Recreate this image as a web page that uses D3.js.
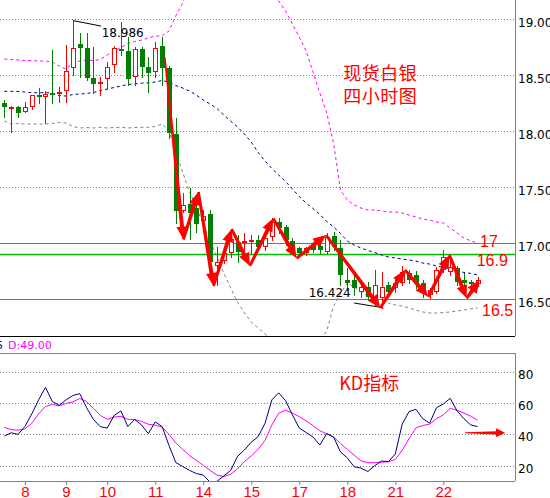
<!DOCTYPE html>
<html><head><meta charset="utf-8">
<script src="https://cdn.jsdelivr.net/npm/d3@7"></script>
<style>
html,body{margin:0;padding:0;background:#fff;}
svg{display:block;}
</style></head><body>
<svg id="c" width="550" height="498"></svg>
<script>
// ---------- DATA ----------
const openP = [18.253,18.210,18.212,18.167,18.217,18.319,18.301,18.342,18.337,18.354,
18.560,18.777,18.738,18.471,18.431,18.462,18.589,18.732,18.717,18.485,
18.729,18.569,18.524,18.759,18.560,17.973,17.288,17.348,17.312,17.199,
17.259,16.797,16.839,16.908,17.009,17.013,17.018,17.027,16.961,17.051,
17.190,17.146,17.020,16.953,16.913,16.982,16.973,16.922,17.062,16.955,
16.670,16.670,16.565,16.610,16.506,16.509,16.625,16.598,16.643,16.732,
16.714,16.643,16.536,16.565,16.759,16.744,16.777,16.670,16.654,16.634];
const closeP = [18.217,18.214,18.163,18.212,18.319,18.304,18.330,18.330,18.348,18.536,
18.738,18.744,18.471,18.420,18.440,18.569,18.738,18.726,18.467,18.729,
18.574,18.521,18.738,18.560,17.985,17.288,17.339,17.270,17.170,17.244,
16.830,16.830,16.908,17.036,16.920,17.022,17.027,16.967,17.042,17.190,
17.131,17.027,16.967,16.908,16.953,16.937,16.937,17.051,16.967,16.714,
16.643,16.598,16.610,16.521,16.625,16.607,16.565,16.643,16.741,16.670,
16.643,16.565,16.580,16.759,16.875,16.788,16.654,16.640,16.634,16.670];
const highP = [18.277,18.223,18.223,18.262,18.319,18.387,18.354,18.723,18.396,18.768,
18.986,18.878,18.872,18.753,18.485,18.619,18.759,18.976,18.842,18.753,
18.747,18.663,18.792,18.842,18.580,18.116,17.446,17.491,17.402,17.295,
17.295,16.967,16.946,17.116,17.071,17.089,17.071,17.071,17.071,17.223,
17.223,17.161,17.045,16.967,16.967,17.009,17.000,17.089,17.098,17.027,
16.777,16.741,16.670,16.652,16.759,16.741,16.652,16.687,16.795,16.759,
16.750,16.670,16.598,16.786,16.937,16.893,16.795,16.732,16.670,16.696];
const lowP = [18.128,17.994,18.128,18.167,18.194,18.247,18.074,18.253,18.262,18.262,
18.500,18.479,18.455,18.337,18.321,18.375,18.529,18.679,18.411,18.411,
18.485,18.351,18.485,18.411,17.937,17.181,17.277,17.036,17.098,17.134,
16.741,16.625,16.821,16.878,16.830,16.937,16.911,16.937,16.937,17.027,
17.089,16.982,16.937,16.893,16.893,16.920,16.911,16.911,16.937,16.625,
16.580,16.536,16.518,16.491,16.446,16.424,16.518,16.562,16.625,16.643,
16.598,16.518,16.509,16.554,16.741,16.714,16.625,16.625,16.607,16.616];

const bbMid = [18.354,18.354,18.353,18.348,18.342,18.342,18.342,18.339,18.317,18.312,
18.326,18.330,18.335,18.344,18.362,18.375,18.388,18.402,18.415,18.421,
18.427,18.430,18.437,18.451,18.437,18.406,18.384,18.357,18.321,18.277,
18.241,18.201,18.143,18.089,18.036,17.973,17.900,17.810,17.732,17.665,
17.607,17.549,17.482,17.415,17.357,17.308,17.254,17.192,17.143,17.085,
17.018,16.982,16.955,16.933,16.915,16.893,16.875,16.866,16.857,16.848,
16.839,16.821,16.812,16.795,16.781,16.768,16.750,16.737,16.728,16.714];
const bbUp = [18.643,18.638,18.634,18.629,18.629,18.625,18.625,18.616,18.580,18.553,
18.607,18.625,18.634,18.629,18.638,18.679,18.714,18.746,18.781,18.799,
18.812,18.830,18.848,18.848,18.893,19.027,19.143,19.295,19.437,19.571,
19.688,19.777,19.839,19.866,19.866,19.839,19.777,19.661,19.482,19.277,
19.161,19.071,18.955,18.839,18.714,18.527,18.339,18.161,17.893,17.473,
17.384,17.339,17.312,17.295,17.295,17.286,17.277,17.277,17.268,17.250,
17.232,17.214,17.205,17.188,17.179,17.134,17.089,17.045,17.018,17.000];
const bbLow = [18.089,18.062,18.067,18.062,18.062,18.062,18.062,18.067,18.076,18.071,
18.040,18.027,18.031,18.027,18.033,18.027,18.031,18.033,18.027,18.031,
18.033,18.033,18.040,18.062,17.999,17.812,17.634,17.455,17.330,17.161,
17.027,16.875,16.732,16.598,16.473,16.375,16.295,16.241,16.188,16.134,
16.089,16.054,16.036,16.027,16.045,16.080,16.134,16.214,16.437,16.545,
16.643,16.607,16.562,16.527,16.500,16.482,16.464,16.446,16.437,16.420,
16.402,16.384,16.375,16.375,16.379,16.384,16.393,16.402,16.411,16.420];

const kLine = [39,41,40,45,53,62,70,61,58.5,62,
64.8,66,57,49.5,44.9,44,52,55,45,49.5,
46,40.5,48,45,33,22,19.5,17,15,14,
9.5,10,13.5,17,26,30,35,38.5,47,62,
66.5,61.5,52.5,44,41.2,38.3,33.2,40.5,38.3,28.8,
25,19.3,18.5,16.3,20,23,22.6,27.5,46.5,54.5,
56,50,47.2,57,59.4,63,55,50,46,45];
const dLine = [44.5,43,42.7,43.5,47,53,57.8,59.1,58.2,59.7,
60.7,62.9,60.9,56.5,52.1,49.6,51,51.5,49.6,49.4,
48.3,46.4,45.9,44.6,40,34.5,30.5,26.5,23.3,20.3,
17,14,13.1,14.5,18,22.7,26.2,30.5,36,46,
53.5,55.5,53.5,51.3,48.6,45.6,42.3,40.4,38.3,34.2,
30.4,26.8,23.1,21.9,21.9,22.3,22.5,24,29.8,37.3,
44.1,45.7,46.5,50,52.5,56.6,55.4,53.6,51.6,49];

const xLabels = ['8','9','10','11','14','15','17','18','21','22'];
const xLabelBars = [3,9,15,22,29,36,43,50,57,64];
const priceTicks = [16.5,17,17.5,18,18.5,19];
const kdTicks = [20,40,60,80];
const levelValues = [17, 16.9, 16.5];
const levelTexts = ['17','16.9','16.5'];
// trend arrows: [bar index, price]
const arrowPath = [[23.4,18.66],[26.1,17.031],[28.3,17.455],[30.5,16.616],[33.15,17.125],
[35.8,16.795],[39.2,17.22],[42.6,16.863],[46.9,17.071],[54.8,16.42],[58.4,16.759],
[61.8,16.52],[64.9,16.893],[67.4,16.506],[69.3,16.67]];
const kdArrow = [[67.2,41],[73.0,41]];
const highMark = {from:[10,18.986], to:[14.1,18.937], text:'18.986', at:[14.2,18.875]};
const lowMark = {from:[51,16.464], to:[55,16.424], text:'16.424', at:[50.5,16.551]};
const titleLines = ['现货白银','四小时图'];
const titlePos = [[54.8,18.509],[54.8,18.304]];
const kdTitle = {text:'KD指标', at:[53.2,72.7]};
const levelLabelPos = [[69.35,17.02],[68.86,16.848],[69.64,16.402]];
const kdInfo = {k:'45', d:'D:49.00'};

// ---------- SCALES ----------
const AX = 515;
const mainTop = 0, mainBot = 336, kdTop = 353, kdBot = 481;
const xi = d3.scaleLinear().domain([-0.5, 74.5]).range([0.87, 515.37]);
const y = d3.scaleLinear().domain([16.5, 19]).range([299, 19]);
const yk = d3.scaleLinear().domain([20, 80]).range([465.7, 371.7]);

const svg = d3.select('#c');
const defs = svg.append('defs');
defs.append('clipPath').attr('id','cm').append('rect').attr('x',0).attr('y',mainTop).attr('width',AX).attr('height',mainBot-mainTop);
defs.append('clipPath').attr('id','ck').append('rect').attr('x',0).attr('y',kdTop).attr('width',AX).attr('height',kdBot-kdTop);

const FONT = 'DejaVu Sans, Verdana, sans-serif';
const ARIAL = 'Liberation Sans, Arial, sans-serif';
const CJK = 'Noto Sans CJK SC, sans-serif';
const px = v => Math.round(v) + 0.5;

// ---------- MAIN PANEL ----------
const gm = svg.append('g').attr('clip-path','url(#cm)');
gm.selectAll('line.grid').data(priceTicks).join('line')
  .attr('x1',0).attr('x2',AX).attr('y1',d=>px(y(d))).attr('y2',d=>px(y(d)))
  .attr('stroke','#808080').attr('stroke-dasharray','1,2');

const levelColors = ['#3f9f3f','#00c000','#3f9f3f'];
gm.selectAll('line.lvl').data(levelValues).join('line')
  .attr('x1',0).attr('x2',AX).attr('y1',d=>px(y(d))).attr('y2',d=>px(y(d)))
  .attr('stroke',(d,i)=>levelColors[i]).attr('stroke-width',(d,i)=>i===1?1.3:1);

const band = d3.line().x((d,i)=>xi(i)).y(d=>y(d));
gm.append('path').attr('d',band(bbUp)).attr('fill','none').attr('stroke','#ff00ff').attr('stroke-dasharray','3,3');
gm.append('path').attr('d',band(bbMid)).attr('fill','none').attr('stroke','#000080').attr('stroke-dasharray','3,3');
gm.append('path').attr('d',band(bbLow)).attr('fill','none').attr('stroke','#808080').attr('stroke-dasharray','3,3');

const candles = d3.range(openP.length).map(i=>({i,o:openP[i],c:closeP[i],h:highP[i],l:lowP[i]}));
const cg = gm.append('g').attr('shape-rendering','crispEdges');
candles.forEach(d=>{
  const up = d.c >= d.o;
  const col = up ? '#ff0000' : '#008000';
  const cx = Math.round(xi(d.i));
  cg.append('line').attr('x1',cx+0.5).attr('x2',cx+0.5)
    .attr('y1',Math.round(y(d.h))).attr('y2',Math.round(y(d.l))+1).attr('stroke',col);
  const top = Math.round(y(Math.max(d.o,d.c)));
  const bot = Math.round(y(Math.min(d.o,d.c)));
  if (up) {
    cg.append('rect').attr('x',cx-1.5).attr('y',top+0.5).attr('width',4).attr('height',Math.max(bot-top-1,1))
      .attr('fill','#fff').attr('stroke',col);
  } else {
    cg.append('rect').attr('x',cx-2).attr('y',top).attr('width',5).attr('height',Math.max(bot-top,2))
      .attr('fill',col);
  }
});

[highMark, lowMark].forEach((m,k)=>{
  gm.append('line').attr('x1',xi(m.from[0])).attr('y1',y(m.from[1]))
    .attr('x2',xi(m.to[0])).attr('y2',y(m.to[1])).attr('stroke','#000');
  gm.append('text').attr('x',xi(m.at[0])).attr('y',y(m.at[1])).attr('dy','0.35em')
    .attr('text-anchor',k===0?'start':'end').attr('font-family',FONT).attr('font-size',12)
    .attr('fill','#000').text(m.text);
});

function arrowPoly(p0,p1,w0,w1,hl,hw){
  const dx=p1[0]-p0[0], dy=p1[1]-p0[1], L=Math.hypot(dx,dy);
  const ux=dx/L, uy=dy/L, nx=-uy, ny=ux;
  const bx=p1[0]-ux*hl, by=p1[1]-uy*hl;
  return [[p0[0]+nx*w0,p0[1]+ny*w0],[bx+nx*w1,by+ny*w1],[bx+nx*hw,by+ny*hw],p1,
          [bx-nx*hw,by-ny*hw],[bx-nx*w1,by-ny*w1],[p0[0]-nx*w0,p0[1]-ny*w0]];
}
const ag = gm.append('g');
for (let k=0;k<arrowPath.length-1;k++){
  const a=[xi(arrowPath[k][0]), y(arrowPath[k][1])];
  const b=[xi(arrowPath[k+1][0]), y(arrowPath[k+1][1])];
  ag.append('polygon').attr('points',arrowPoly(a,b,k===0?0.8:1.4,2,13,5.5).map(p=>p.join(',')).join(' '))
    .attr('fill','#ff0000');
}

// title (one text block, two lines)
const tt = gm.append('text').attr('text-anchor','middle').attr('font-family',CJK)
  .attr('font-size',18).attr('fill','#ff0000').attr('letter-spacing','0.5px');
tt.selectAll('tspan').data(titleLines).join('tspan')
  .attr('x',(d,i)=>xi(titlePos[i][0])).attr('y',(d,i)=>y(titlePos[i][1])+6.5).text(d=>d);

svg.selectAll('text.lvl').data(levelTexts).join('text')
  .attr('x',(d,i)=>xi(levelLabelPos[i][0])).attr('y',(d,i)=>y(levelLabelPos[i][1])).attr('dy','0.36em')
  .attr('font-family',ARIAL).attr('font-size',16).attr('fill','#ff0000').text(d=>d);

const yAxis = d3.axisRight(y).tickValues(priceTicks).tickFormat(d3.format('.2f')).tickSize(0).tickPadding(3);
const ga = svg.append('g').attr('transform',`translate(${AX},0)`).call(yAxis);
ga.select('.domain').remove();
ga.selectAll('text').attr('font-family',FONT).attr('font-size',12).attr('fill','#000').attr('dy','0.62em');
svg.append('line').attr('x1',AX+0.5).attr('x2',AX+0.5).attr('y1',0).attr('y2',mainBot).attr('stroke','#808080');
svg.append('line').attr('x1',0).attr('x2',AX).attr('y1',mainBot+0.5).attr('y2',mainBot+0.5).attr('stroke','#000');

// ---------- KD PANEL ----------
const gk = svg.append('g').attr('clip-path','url(#ck)');
gk.selectAll('line.grid').data(kdTicks).join('line')
  .attr('x1',0).attr('x2',AX).attr('y1',d=>px(yk(d))).attr('y2',d=>px(yk(d)))
  .attr('stroke','#808080').attr('stroke-dasharray','1,2');
const kdl = d3.line().x((d,i)=>xi(i)).y(d=>yk(d));
gk.append('path').attr('d',kdl(dLine)).attr('fill','none').attr('stroke','#ff00ff').attr('stroke-width',1);
gk.append('path').attr('d',kdl(kLine)).attr('fill','none').attr('stroke','#000080').attr('stroke-width',1);
{
  const a=[xi(kdArrow[0][0]), yk(kdArrow[0][1])], b=[xi(kdArrow[1][0]), yk(kdArrow[1][1])];
  gk.append('polygon').attr('points',arrowPoly(a,b,0.5,1.6,9,4.5).map(p=>p.join(',')).join(' ')).attr('fill','#ff0000');
}
gk.append('text').attr('x',xi(kdTitle.at[0])).attr('y',yk(kdTitle.at[1])).attr('dy','0.36em')
  .attr('text-anchor','middle').attr('font-family',CJK).attr('font-size',18).attr('fill','#ff0000').text(kdTitle.text);

svg.append('line').attr('x1',0).attr('x2',AX).attr('y1',kdTop+0.5).attr('y2',kdTop+0.5).attr('stroke','#808080');
svg.append('line').attr('x1',0).attr('x2',AX).attr('y1',kdBot+0.5).attr('y2',kdBot+0.5).attr('stroke','#808080');
svg.append('line').attr('x1',AX+0.5).attr('x2',AX+0.5).attr('y1',kdTop).attr('y2',kdBot).attr('stroke','#808080');

svg.append('text').attr('x',3).attr('y',345).attr('dy','0.36em').attr('text-anchor','end')
  .attr('font-family',FONT).attr('font-size',11).attr('fill','#000080').text(kdInfo.k);
svg.append('text').attr('x',8).attr('y',345).attr('dy','0.36em')
  .attr('font-family',FONT).attr('font-size',11).attr('fill','#ff00ff').text(kdInfo.d);

const kAxis = d3.axisRight(yk).tickValues(kdTicks).tickSize(0).tickPadding(3);
const gka = svg.append('g').attr('transform',`translate(${AX},0)`).call(kAxis);
gka.select('.domain').remove();
gka.selectAll('text').attr('font-family',FONT).attr('font-size',12).attr('fill','#000').attr('dy','0.55em');

const xAxis = d3.axisBottom(xi).tickValues(xLabelBars).tickFormat((d,i)=>xLabels[i]).tickSize(4).tickPadding(1);
const gx = svg.append('g').attr('transform',`translate(0,${kdBot})`).call(xAxis);
gx.select('.domain').remove();
gx.selectAll('line').attr('stroke','#808080');
gx.selectAll('text').attr('font-family',ARIAL).attr('font-size',15).attr('fill','#ff0000');
</script>
</body></html>
